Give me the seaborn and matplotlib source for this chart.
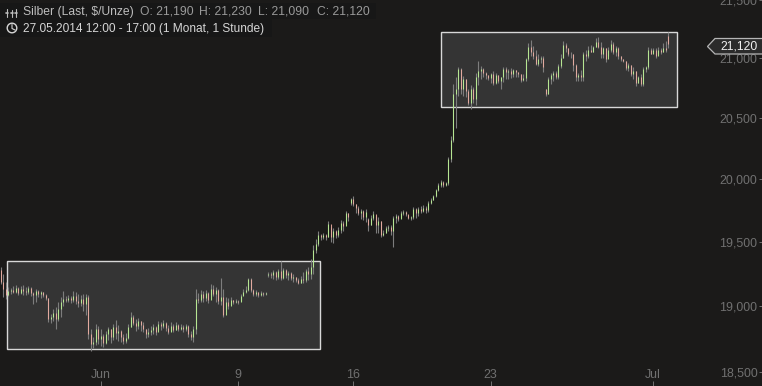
import matplotlib
matplotlib.use("Agg")
import matplotlib.pyplot as plt
import numpy as np
import pandas as pd
import seaborn as sns
from matplotlib.patches import Circle, Polygon, Rectangle
from matplotlib.ticker import FixedFormatter, FixedLocator, NullLocator

highs = [
    19297, 19243, 19182, 19143, 19136, 19151, 19159, 19143, 19151, 19159,
    19143, 19151, 19143, 19105, 19128, 19120, 19113, 19105, 19090, 19059,
    18935, 18974, 18989, 19028, 19066, 19113, 19074, 19082, 19074, 19113,
    19105, 19090, 19082, 19090, 19090, 19082, 18820, 18758, 18858, 18843,
    18820, 18782, 18805, 18835, 18820, 18858, 18889, 18851, 18812, 18782,
    18789, 18858, 18951, 18928, 18897, 18905, 18882, 18874, 18820, 18828,
    18843, 18858, 18843, 18882, 18874, 18889, 18874, 18851, 18874, 18858,
    18874, 18858, 18858, 18851, 18858, 18850, 18805, 18843, 19128, 19097,
    19120, 19113, 19120, 19105, 19167, 19159, 19143, 19125, 19213, 19128,
    19066, 19059, 19066, 19043, 19051, 19043, 19090, 19128, 19151, 19213,
    19213, 19128, 19120, 19105, 19113, 19105, 19105, 19259, 19259, 19274,
    19267, 19282, 19344, 19290, 19282, 19267, 19259, 19243, 19220, 19213,
    19228, 19259, 19282, 19297, 19359, 19476, 19516, 19580, 19556, 19564,
    19556, 19659, 19611, 19603, 19595, 19611, 19667, 19659, 19739, 19723,
    19843, 19859, 19795, 19779, 19755, 19747, 19755, 19683, 19707, 19739,
    19699, 19691, 19665, 19595, 19619, 19627, 19627, 19699, 19715, 19707,
    19739, 19747, 19739, 19707, 19699, 19771, 19763, 19771, 19779, 19787,
    19779, 19819, 19843, 19867, 19923, 19964, 19988, 19980, 19972, 20175,
    20347, 20780, 20839, 20924, 20915, 20848, 20830, 20738, 20772, 20755,
    20873, 20975, 20932, 20916, 20882, 20856, 20873, 20890, 20873, 20856,
    20839, 20924, 20924, 20907, 20916, 20907, 20899, 20882, 20870, 20865,
    21008, 21135, 21160, 21110, 21076, 21042, 21017, 21025, 20738, 20839,
    20873, 20890, 20890, 20949, 21034, 21152, 21135, 21085, 21051, 21040,
    20949, 20873, 20899, 21059, 21076, 21110, 21118, 21110, 21177, 21186,
    21144, 21101, 21093, 21101, 21160, 21144, 21110, 21101, 21025, 20992,
    20980, 20958, 20945, 20924, 20895, 20848, 20865, 20924, 20932, 21101,
    21093, 21093, 21093, 21101, 21093, 21135, 21152, 21230,
]
lows = [
    19167, 19066, 19051, 19074, 19090, 19097, 19097, 19082, 19090, 19082,
    19082, 19090, 19074, 19013, 19028, 19066, 19059, 19066, 19043, 18874,
    18866, 18882, 18820, 18882, 18912, 18997, 19028, 19028, 19020, 19028,
    19013, 18989, 18997, 18959, 18928, 18743, 18651, 18674, 18697, 18705,
    18689, 18681, 18705, 18735, 18712, 18735, 18743, 18728, 18720, 18705,
    18712, 18743, 18835, 18851, 18805, 18820, 18805, 18797, 18751, 18758,
    18774, 18782, 18774, 18812, 18812, 18828, 18805, 18782, 18805, 18797,
    18812, 18805, 18812, 18797, 18805, 18758, 18735, 18720, 18782, 19020,
    19028, 19028, 19036, 19020, 19082, 19074, 19028, 19013, 19005, 18912,
    18974, 18974, 19005, 19013, 19020, 19013, 19036, 19082, 19097, 19113,
    19105, 19074, 19074, 19066, 19074, 19074, 19082, 19220, 19213, 19205,
    19197, 19205, 19197, 19205, 19213, 19197, 19197, 19182, 19182, 19167,
    19174, 19174, 19182, 19197, 19205, 19243, 19413, 19468, 19508, 19516,
    19508, 19532, 19500, 19492, 19524, 19532, 19564, 19580, 19643, 19659,
    19787, 19779, 19723, 19707, 19675, 19667, 19651, 19587, 19627, 19667,
    19571, 19571, 19532, 19540, 19564, 19587, 19548, 19460, 19643, 19659,
    19683, 19707, 19699, 19675, 19667, 19675, 19683, 19699, 19723, 19731,
    19723, 19731, 19795, 19827, 19851, 19899, 19932, 19932, 19940, 19948,
    20135, 20298, 20420, 20687, 20696, 20687, 20671, 20604, 20571, 20628,
    20612, 20772, 20823, 20839, 20823, 20814, 20789, 20772, 20780, 20789,
    20738, 20797, 20823, 20823, 20831, 20839, 20839, 20839, 20797, 20806,
    20806, 20975, 21025, 20992, 20941, 20932, 20958, 20882, 20687, 20696,
    20780, 20806, 20823, 20823, 20916, 21008, 21059, 21017, 21008, 20890,
    20806, 20806, 20806, 20806, 20975, 21008, 21051, 21059, 21101, 21093,
    21008, 21000, 20966, 21017, 21059, 21042, 21025, 20992, 20975, 20966,
    20899, 20890, 20848, 20823, 20764, 20789, 20764, 20764, 20882, 20907,
    21034, 21051, 21008, 21042, 21034, 21051, 21051, 21090,
]
opens = [
    19274, 19182, 19128, 19082, 19113, 19120, 19105, 19136, 19097, 19128,
    19113, 19105, 19136, 19097, 19082, 19113, 19090, 19105, 19082, 19059,
    18897, 18912, 18943, 18897, 18974, 19028, 19051, 19043, 19059, 19043,
    19074, 19036, 19020, 19051, 19013, 19066, 18782, 18705, 18720, 18820,
    18743, 18766, 18712, 18782, 18820, 18758, 18835, 18789, 18805, 18758,
    18728, 18751, 18835, 18912, 18866, 18843, 18882, 18851, 18820, 18782,
    18797, 18812, 18835, 18797, 18858, 18843, 18866, 18828, 18797, 18843,
    18812, 18851, 18820, 18835, 18820, 18843, 18782, 18758, 18820, 19051,
    19043, 19090, 19059, 19097, 19043, 19128, 19090, 19120, 19036, 19066,
    18928, 19028, 18997, 19043, 19028, 19036, 19028, 19074, 19105, 19120,
    19205, 19120, 19090, 19105, 19082, 19097, 19090, 19236, 19243, 19236,
    19259, 19220, 19267, 19213, 19274, 19236, 19251, 19213, 19220, 19197,
    19174, 19205, 19197, 19267, 19243, 19297, 19437, 19484, 19548, 19532,
    19548, 19532, 19635, 19532, 19580, 19548, 19595, 19643, 19619, 19723,
    19803, 19835, 19795, 19763, 19723, 19739, 19691, 19675, 19627, 19683,
    19715, 19627, 19659, 19548, 19571, 19603, 19611, 19580, 19683, 19699,
    19675, 19723, 19731, 19715, 19683, 19691, 19755, 19723, 19755, 19739,
    19763, 19747, 19803, 19827, 19859, 19907, 19948, 19972, 19948, 19964,
    20159, 20322, 20696, 20738, 20907, 20738, 20823, 20721, 20628, 20738,
    20654, 20839, 20890, 20907, 20873, 20856, 20831, 20865, 20789, 20856,
    20806, 20839, 20907, 20882, 20890, 20865, 20899, 20882, 20865, 20814,
    20831, 20992, 21101, 21059, 21025, 20949, 20992, 21008, 20738, 20704,
    20823, 20856, 20873, 20839, 20932, 21008, 21118, 21093, 21034, 21034,
    20941, 20839, 20856, 20839, 21034, 21025, 21076, 21059, 21101, 21144,
    21101, 21034, 21093, 20992, 21076, 21127, 21059, 21093, 21025, 20992,
    20975, 20916, 20941, 20865, 20890, 20789, 20839, 20780, 20907, 20924,
    21076, 21042, 21076, 21017, 21068, 21051, 21093, 21190,
]
closes = [
    19182, 19128, 19082, 19113, 19120, 19105, 19136, 19097, 19128, 19113,
    19105, 19136, 19097, 19082, 19113, 19090, 19105, 19082, 19059, 18897,
    18912, 18943, 18897, 18974, 19028, 19051, 19043, 19059, 19043, 19074,
    19036, 19020, 19051, 19013, 19066, 18782, 18705, 18720, 18820, 18743,
    18766, 18712, 18782, 18820, 18758, 18835, 18789, 18805, 18758, 18728,
    18751, 18835, 18912, 18866, 18843, 18882, 18851, 18820, 18782, 18797,
    18812, 18835, 18797, 18858, 18843, 18866, 18828, 18797, 18843, 18812,
    18851, 18820, 18835, 18820, 18843, 18782, 18758, 18820, 19051, 19043,
    19090, 19059, 19097, 19043, 19128, 19090, 19120, 19036, 19066, 18928,
    19028, 18997, 19043, 19028, 19036, 19028, 19074, 19105, 19120, 19205,
    19120, 19090, 19105, 19082, 19097, 19090, 19097, 19243, 19236, 19259,
    19220, 19267, 19213, 19274, 19236, 19251, 19213, 19220, 19197, 19174,
    19205, 19197, 19267, 19243, 19297, 19437, 19484, 19548, 19532, 19548,
    19532, 19635, 19532, 19580, 19548, 19595, 19643, 19619, 19723, 19691,
    19835, 19795, 19763, 19723, 19739, 19691, 19731, 19627, 19683, 19715,
    19627, 19659, 19548, 19571, 19603, 19611, 19580, 19683, 19699, 19675,
    19723, 19731, 19715, 19683, 19691, 19755, 19723, 19755, 19739, 19763,
    19747, 19803, 19827, 19859, 19907, 19948, 19972, 19948, 19964, 20159,
    20322, 20696, 20738, 20907, 20738, 20823, 20721, 20628, 20738, 20654,
    20839, 20890, 20907, 20873, 20856, 20831, 20865, 20789, 20856, 20806,
    20839, 20907, 20882, 20890, 20865, 20899, 20882, 20865, 20814, 20831,
    20992, 21101, 21059, 21025, 20949, 20992, 21008, 20924, 20704, 20823,
    20856, 20873, 20839, 20932, 21008, 21118, 21093, 21034, 21034, 20941,
    20839, 20856, 20839, 21034, 21025, 21076, 21059, 21101, 21144, 21101,
    21034, 21093, 20992, 21076, 21127, 21059, 21093, 21025, 20992, 20975,
    20916, 20941, 20865, 20890, 20789, 20839, 20780, 20907, 20924, 21076,
    21042, 21076, 21017, 21068, 21051, 21093, 21068, 21120,
]
price_ticks = [18500, 19000, 19500, 20000, 20500, 21000, 21500]
price_labels = ["18,500", "19,000", "19,500", "20,000", "20,500", "21,000", "21,500"]
date_ticks = [40, 95, 141, 196, 261]
date_labels = ["Jun", "9", "16", "23", "Jul"]
# consolidation boxes: first/last candle slot, low/high price
box_slots = [(2.6, 127.8), (176.2, 270.6)]
box_prices = [(18673, 19343), (20588, 21222)]
last_price = "21,120"

BG = "#1b1a19"
GREY = "#707070"

sns.set_theme(style="dark", rc={"axes.facecolor": BG, "figure.facecolor": BG})
plt.rcParams["font.family"] = ["Liberation Sans", "DejaVu Sans"]

n = min(len(highs), len(lows), len(opens), len(closes))
candle = np.arange(n)
frame = pd.DataFrame(
    {
        "candle": candle,
        "high": highs[:n],
        "low": lows[:n],
        "open": opens[:n],
        "close": closes[:n],
    }
)
frame["side"] = np.where(frame["close"] >= frame["open"], "up", "down")

wicks = frame.melt(id_vars="candle", value_vars=["high", "low"], value_name="price")
bodies = frame.melt(
    id_vars=["candle", "side"], value_vars=["open", "close"], value_name="price"
)

figure = plt.figure(figsize=(7.62, 3.86), dpi=100)
axis = figure.add_axes([0, 0, 1, 1])
axis.set_yscale("log")

for (left, right), (bottom, top) in zip(box_slots, box_prices):
    axis.add_patch(
        Rectangle(
            (left, bottom),
            right - left,
            top - bottom,
            facecolor="#343434",
            edgecolor="#d8d8d8",
            linewidth=1.0,
            zorder=1,
        )
    )

sns.lineplot(
    data=wicks,
    x="candle",
    y="price",
    units="candle",
    estimator=None,
    errorbar=None,
    sort=False,
    color="#7d7d7d",
    linewidth=0.8,
    solid_capstyle="butt",
    legend=False,
    zorder=3,
    ax=axis,
)
sns.lineplot(
    data=bodies,
    x="candle",
    y="price",
    units="candle",
    hue="side",
    palette={"up": "#bdf295", "down": "#eeb0a3"},
    estimator=None,
    errorbar=None,
    sort=False,
    linewidth=0.75,
    alpha=0.9,
    solid_capstyle="butt",
    legend=False,
    zorder=4,
    ax=axis,
)

axis.set_xlim(-0.2, 304.6)
axis.set_ylim(18392, 21503)
axis.set_xlabel("")
axis.set_ylabel("")
axis.grid(False)
for spine in axis.spines.values():
    spine.set_visible(False)

axis.yaxis.set_major_locator(FixedLocator(price_ticks))
axis.yaxis.set_major_formatter(FixedFormatter(price_labels))
axis.yaxis.set_minor_locator(NullLocator())
axis.tick_params(
    axis="y", which="major", left=False, labelleft=False, right=True, labelright=True,
    direction="in", length=2.5, width=0.7, color=GREY, labelcolor=GREY,
    labelsize=8.9, pad=-3.2,
)
for label in axis.get_yticklabels():
    label.set_ha("right")
axis.set_xticks(date_ticks, date_labels)
axis.tick_params(
    axis="x", which="major", bottom=True, direction="in", length=3.5, width=0.7,
    color=GREY, labelcolor=GREY, labelsize=8.9, pad=-12.5,
)

# overlay in pixel coordinates for the header and the last-price tag
overlay = figure.add_axes([0, 0, 1, 1], facecolor="none")
overlay.set_xlim(0, 762)
overlay.set_ylim(386, 0)
overlay.axis("off")

overlay.add_patch(Rectangle((0, 3), 376, 16, facecolor="#171717", edgecolor="none"))
overlay.add_patch(Rectangle((0, 19), 272, 18, facecolor="#171717", edgecolor="none"))

for x, text, color in [
    (23, "Silber (Last, $/Unze)", "#bdbdbd"),
    (140, "O: 21,190", "#9a9a9a"),
    (199, "H: 21,230", "#9a9a9a"),
    (258, "L: 21,090", "#9a9a9a"),
    (317, "C: 21,120", "#9a9a9a"),
]:
    overlay.text(x, 12, text, color=color, fontsize=8.7, ha="left", va="center")
overlay.text(
    23, 28.7, "27.05.2014 12:00 - 17:00 (1 Monat, 1 Stunde)",
    color="#d6d6d6", fontsize=8.6, ha="left", va="center",
)

# bars icon and clock icon
for x, top, bottom in [(7, 9, 17), (11.5, 10, 17), (16, 9, 17)]:
    overlay.plot([x, x], [top, bottom], color="#bdbdbd", lw=0.8)
    overlay.plot([x - 1, x + 1], [13, 13], color="#bdbdbd", lw=1.2)
overlay.add_patch(Circle((12, 28), 4.8, fill=False, edgecolor="#d6d6d6", linewidth=1.0))
overlay.plot([12, 12, 15], [24.5, 28.5, 30], color="#d6d6d6", lw=0.8)

overlay.add_patch(
    Polygon(
        [(762, 38.5), (715, 38.5), (707.5, 46.5), (715, 54), (762, 54)],
        closed=False, facecolor="#2b2b2b", edgecolor="#b5b5b5", linewidth=0.9,
    )
)
overlay.text(739, 46.5, last_price, color="#f0f0f0", fontsize=8.7, ha="center", va="center")

figure.savefig("out.png", dpi=100, facecolor=BG)
